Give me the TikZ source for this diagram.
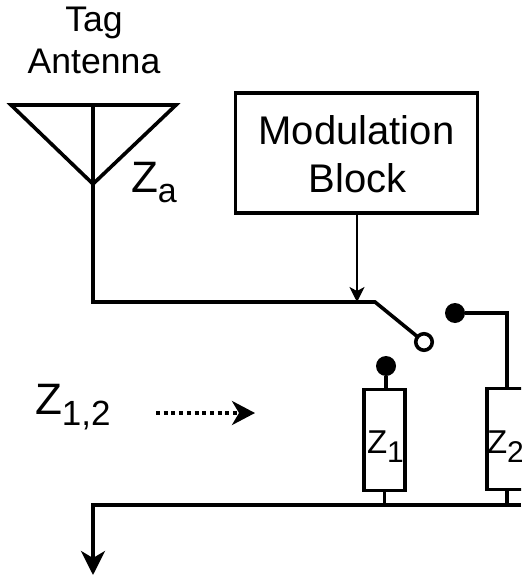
\documentclass[tikz,border=0pt]{standalone}
\usepackage{fontspec}
\setmainfont{Liberation Sans}
\usetikzlibrary{arrows.meta}
\newcommand{\fs}[1]{\fontsize{#1}{#1}\selectfont}
\tikzset{
  wire/.style={line width=3.6pt,line join=miter},
  box/.style={draw,line width=3.6pt,fill=white,inner sep=0pt,outer sep=0pt,rectangle},
  txt/.style={inner sep=0pt,outer sep=0pt,anchor=base,align=center},
  ltxt/.style={inner sep=0pt,outer sep=0pt,anchor=base west},
  bighead/.style={-{Stealth[length=24pt,width=24pt,inset=7pt]}},
  dotp/.style={circle,fill=black,inner sep=0pt,minimum size=20pt,outer sep=0pt},
  opn/.style={circle,draw,line width=3.6pt,fill=white,inner sep=0pt,minimum size=16.5pt,outer sep=0pt}
}
\begin{document}
\begin{tikzpicture}[x=1pt,y=-1pt]
\useasboundingbox (0,0) rectangle (521,577);
\clip (0,0) rectangle (521,577);
% labels
\node[txt] (tag) at (94,32) {\fs{35.6}Tag};
\node[txt] (ant) at (94,74) {\fs{35.6}Antenna};
\node[ltxt] (za) at (131,193) {\fs{44}Z\raisebox{-10pt}{\fs{34}a}};
\node[ltxt] (z12) at (35,414) {\fs{44}Z\raisebox{-11pt}{\fs{35}1,2}};
% antenna
\coordinate (al) at (11,105);
\coordinate (ar) at (176,105);
\coordinate (at) at (93,105);
\coordinate (ab) at (93,184);
\draw[wire] (al) -- (ar) -- (ab) -- cycle;
\coordinate (c1) at (93,302);
\coordinate (c2) at (375,302);
% modulation block
\node[box,minimum width=242pt,minimum height=120pt] (mod) at (356.5,153) {};
\node[txt] at (356.5,145) {\fs{40}Modulation};
\node[txt] at (357.5,193) {\fs{40}Block};
\coordinate (sw) at (357,302);
\draw[line width=1.4pt,-{Stealth[length=15pt,width=15pt,inset=4pt]}] (mod.south -| sw) -- (sw);
% switch
\node[opn] (op) at (424,342) {};
\draw[wire] (at) -- (c1) -- (c2) -- (op);
% impedances
\node[box,minimum width=41pt,minimum height=101pt] (z1) at (384.5,440) {};
\node[ltxt] at (367,453) {\fs{33}Z\raisebox{-9pt}{\fs{30}1}};
\node[box,minimum width=60pt,minimum height=101pt] (z2) at (517,439) {};
\node[ltxt] at (487,453) {\fs{33}Z\raisebox{-9pt}{\fs{30}2}};
\node[dotp] (d1) at (386,366) {};
\node[dotp] (d2) at (455,313) {};
\coordinate (d2c) at (507,313);
\draw[wire] (d1) -- (d1 |- z1.north);
\draw[wire] (d2) -- (d2c) -- (d2c |- z2.north);
% bus
\coordinate (bl) at (93,505);
\coordinate (br) at (521,505);
\coordinate (out) at (93,575);
\draw[wire] (z1.south) -- (z1.south |- bl);
\draw[wire] (z2.south -| d2c) -- (d2c |- bl);
\draw[wire,bighead] (br) -- (bl) -- (out);
% dotted arrow
\coordinate (da) at (156,413);
\coordinate (db) at (255,413);
\draw[line width=3.6pt,dash pattern=on 4pt off 3.7pt,-{Stealth[length=23pt,width=24pt,inset=7pt]}] (da) -- (db);
\end{tikzpicture}
\end{document}
